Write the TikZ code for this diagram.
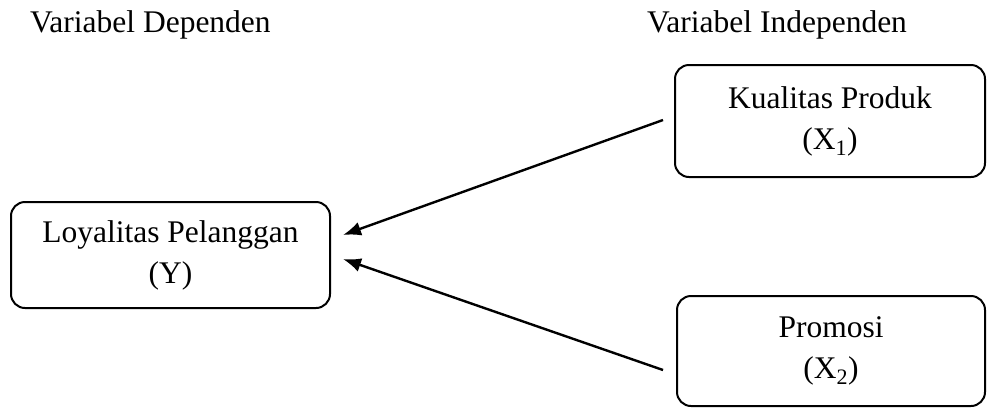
\documentclass[tikz,border=0pt]{standalone}
\usepackage{fontspec}
\setmainfont{Liberation Serif}
\usetikzlibrary{arrows.meta}
\begin{document}
\begin{tikzpicture}[x=1pt,y=-1pt,
  varbox/.style={draw=black,line width=2pt,rounded corners=14pt,align=center,
    inner sep=0pt,font=\fontsize{31.5}{41}\selectfont},
  title/.style={anchor=base west,inner sep=0pt,font=\fontsize{31.5}{41}\selectfont},
  link/.style={line width=2.4pt,-{Latex[length=18pt,width=14pt]}}]
\useasboundingbox (0,0) rectangle (987,408);
\node[title] (td) at (30,32) {Variabel Dependen};
\node[title] (ti) at (647,32) {Variabel Independen};
\node[varbox,minimum width=319pt,minimum height=106pt] (y) at (170.5,255) {Loyalitas Pelanggan\\(Y)};
\node[varbox,minimum width=310pt,minimum height=112pt] (x1) at (830,121) {Kualitas Produk\\(X\textsubscript{1})};
\node[varbox,minimum width=308pt,minimum height=110pt] (x2) at (831,351) {Promosi\\(X\textsubscript{2})};
\coordinate (s1) at (663,120);
\coordinate (e1) at (343,235);
\coordinate (s2) at (663,370);
\coordinate (e2) at (343,259);
\draw[link] (s1) -- (e1);
\draw[link] (s2) -- (e2);
\end{tikzpicture}
\end{document}
